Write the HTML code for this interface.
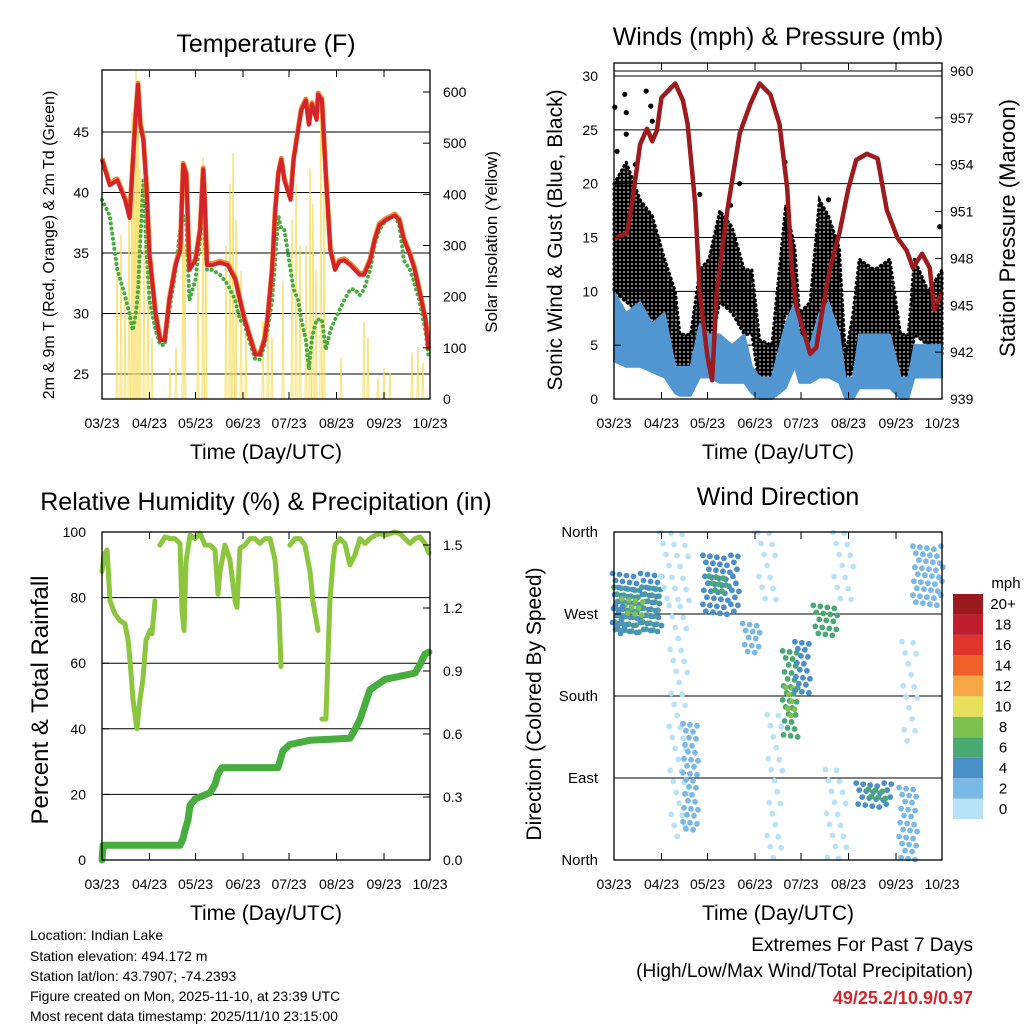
<!DOCTYPE html>
<html><head><meta charset="utf-8"><style>
html,body{margin:0;padding:0;background:#fff;}
svg{display:block;font-family:"Liberation Sans",sans-serif;}
</style></head><body>
<svg id="c" width="1024" height="1024" viewBox="0 0 1024 1024" xmlns="http://www.w3.org/2000/svg">
<defs>
<pattern id="dots" width="4" height="4" patternUnits="userSpaceOnUse"><circle cx="2" cy="2" r="2.2" fill="#000"/></pattern>
</defs>
<text x="266" y="52" font-size="25" text-anchor="middle">Temperature (F)</text>
<text x="778" y="45" font-size="25" text-anchor="middle">Winds (mph) &amp; Pressure (mb)</text>
<text x="266" y="510" font-size="25" text-anchor="middle">Relative Humidity (%) &amp; Precipitation (in)</text>
<text x="778" y="505" font-size="25" text-anchor="middle">Wind Direction</text>
<text x="266" y="459" font-size="21" text-anchor="middle">Time (Day/UTC)</text>
<text x="778" y="459" font-size="21" text-anchor="middle">Time (Day/UTC)</text>
<text x="266" y="920" font-size="21" text-anchor="middle">Time (Day/UTC)</text>
<text x="778" y="920" font-size="21" text-anchor="middle">Time (Day/UTC)</text>
<text transform="translate(54,245) rotate(-90)" font-size="16" text-anchor="middle">2m &amp; 9m T (Red, Orange) &amp; 2m Td (Green)</text>
<text transform="translate(497,242) rotate(-90)" font-size="17" text-anchor="middle">Solar Insolation (Yellow)</text>
<text transform="translate(562,240) rotate(-90)" font-size="21" text-anchor="middle">Sonic Wind &amp; Gust (Blue, Black)</text>
<text transform="translate(1015,228) rotate(-90)" font-size="22" text-anchor="middle">Station Pressure (Maroon)</text>
<text transform="translate(48,700) rotate(-90)" font-size="24" text-anchor="middle">Percent &amp; Total Rainfall</text>
<text transform="translate(541,704) rotate(-90)" font-size="21" text-anchor="middle">Direction (Colored By Speed)</text>
<g font-size="14">
<text x="30" y="940">Location: Indian Lake</text>
<text x="30" y="961">Station elevation: 494.172 m</text>
<text x="30" y="981">Station lat/lon: 43.7907; -74.2393</text>
<text x="30" y="1001">Figure created on Mon, 2025-11-10, at 23:39 UTC</text>
<text x="30" y="1021">Most recent data timestamp: 2025/11/10 23:15:00</text>
</g>
<g font-size="19" text-anchor="end">
<text x="973" y="951">Extremes For Past 7 Days</text>
<text x="973" y="977">(High/Low/Max Wind/Total Precipitation)</text>
<text x="973" y="1004" font-weight="bold" font-size="18" fill="#d0282e">49/25.2/10.9/0.97</text>
</g>
<g id="layer"></g>
</svg>
<script>
// ---------- DATA ----------
const monthLabels=["03/23","04/23","05/23","06/23","07/23","08/23","09/23","10/23"];
const monthDays=[0,31,61,92,122,153,184,214];
// Temperature panel
const tDays=[0,5,10,15,18,20,22,23.5,25,27,29,31,35,38,41,44,48,51,53,55,57,61,64,66,67,68.5,72,77,82,87,90,93,97,100,103,106,108,111,113,115,117,119,123,125,128,130,133,135,137,140,141,143.5,146,149,152,155,158,162,165,168,171,175,178,181,185,188,191,194,197,201,204,207,211,213];
const tempRed=[42.7,40.6,41.0,39.4,37.9,42.3,46.4,48.9,45.6,44.3,40.6,34.8,29.9,27.8,27.8,31.1,34.0,35.2,42.3,41.5,33.6,34.4,36.9,41.9,39.4,34.0,34.0,34.2,34.0,32.8,31.1,29.5,27.8,26.6,26.6,27.8,29.5,33.6,38.5,41.5,42.7,41.0,39.4,42.7,45.2,46.8,47.6,45.6,47.3,46.0,48.1,47.6,41.5,35.2,33.6,34.3,34.4,34.0,33.6,33.2,33.2,34.4,36.1,37.3,37.7,37.9,38.1,37.7,36.1,34.8,33.6,31.9,29.5,27.0];
const dewGreen=[39.4,38.1,33.6,31.5,29.9,28.6,29.9,31.9,36.0,41.0,35.2,31.1,28.6,27.4,27.4,30.3,33.6,36.9,38.1,37.3,31.1,32.8,36.1,41.0,36.0,33.6,33.6,33.2,32.4,31.1,29.5,29.1,27.4,26.2,26.2,27.4,28.6,31.1,34.4,38.1,37.0,36.9,33.6,32.0,31.1,29.5,27.8,25.4,28.0,29.5,29.5,29.5,27.0,28.6,29.5,30.3,31.1,32.0,32.0,31.5,32.0,33.6,35.7,36.9,37.7,37.9,38.1,37.3,34.4,33.6,32.4,31.1,28.6,26.5];
const solarDays=[9.8,12.4,15,17.6,19.6,20.9,22.2,23.5,24.8,27.4,30,32.6,44.4,48.3,52.8,54.1,62.6,65.9,67.8,80.9,83.5,85.5,87.4,90.7,93.9,105,108.3,110.9,118.1,124,126.6,129.2,133.1,135.7,137.6,139.6,142.8,144.8,155.9,170.9,173.5,180,184,187.9,202.2,206.1,209.4];
const solarPeaks=[250,320,200,380,560,470,640,620,450,300,260,120,60,100,460,300,250,470,380,300,420,480,350,250,150,150,200,120,230,350,420,300,300,450,380,250,570,400,80,150,120,40,60,50,90,100,70];
const tempTicks=[25,30,35,40,45];
const solarTicks=[0,100,200,300,400,500,600];
// Wind panel
const pDays=[0,8.5,12,17,21.5,25,28,31,40,45,48,53,56,61,64,67,74,82,89,95,102,108,113,116,119,123,128,132,136,141,147,153,158,165,172,178,185,191,195,201,206,209,214];
const pressure=[949.3,949.6,951.7,955.3,956.3,955.5,956.2,958.3,959.2,958.1,956.6,951.5,945.8,941.7,940.2,945.8,951.1,956.0,957.9,959.2,958.5,956.6,952.5,947.4,944.9,943.6,941.9,942.3,944.7,947.4,949.6,952.5,954.3,954.7,954.4,951.1,949.3,948.5,947.4,948.3,947.4,944.7,945.8];
const gDays=[0,8,17,25,33,40,43,50,56,62,69,77,85,90,95,103,112,118,121,128,134,140,147,151,156,160,170,180,187,192,196,205,214];
const gustHigh=[20,22,18.5,17,13,10,6,6,12,13,17.5,16,12,12,5.5,5,18,14,8,9,18.5,17,14,4,8,13,12,13,6,6,13,10,12];
const gustLow=[10,9,8,7,6,2,1,0.5,3.5,4,9,8,6,6,1,0.5,8,7,3,3,8,8,5,0.5,3,6,6,6,1,1,6,5,4];
const windHigh=[10,8,9,7,8,3,3,3,7,6,6,5,6,3,2,2,7,9,6,5,8,9,6,2,2,6,6,6,2,2,5,5,5];
const windLow=[3.5,3,3,2.5,2,0.5,0.3,0.3,2,2,1.5,1.5,1.5,0.5,0,0,1,3,1.5,1.5,2,2,1.5,0,0,1,1,1,0,0,2,2,2];
const gustOutDays=[0.5,7,8,21,24,25,8,2,14,56,76,82,111.5,140,212.5];
const gustOutVals=[27.1,28.3,26.6,28.6,27.2,25.8,24.6,23,21.8,19,18,20,22,18.5,16];
const windTicks=[0,5,10,15,20,25,30];
const presTicks=[939,942,945,948,951,954,957,960];
// RH panel
const rhDays=[0,1.3,3.3,5.2,8.5,11.7,15,17,18.3,20.2,22.8,24.8,26.7,28.7,31.3,32.6,34.6,36,37.8,41.1,44.4,47.6,50.9,52.2,53.5,54.8,57.4,60.7,63.9,67.2,70.5,73.7,75.7,77,80.2,83.5,86.8,88.1,90,93.3,96.5,99.8,103,106.3,109.6,112.9,115.5,116.8,120,122.6,125.9,129.2,132.4,135.7,137.6,140.9,142,143.5,146.1,148.7,150.7,152,155.3,158.5,161.8,165,168.3,171.6,174.8,178.1,181.3,184.6,187.9,191.1,194.4,197.7,200.9,204.2,207.4,210.7,213.3];
const rhVals=[88,93,94.5,79,75,73,72,67,61,49,40,49,55,67,70,69,79,null,96,98.5,98,98,96.5,76,70,91,99,98,99.7,96,96,94.5,81,88,96,91.5,79,77,95,96,98,98,96.5,98,98,91.5,76,59,null,96,98,98,96,88,79,70,null,43,43,79,91,96,98,96.5,90,93,98,96.5,98,99,99.5,99,99.5,100,99.5,98,96.5,98,98.5,96.5,93.6];
const prDays=[0,0.7,50.9,52.8,54.1,56.1,57.4,60.7,63.9,70.5,73.7,75.7,78.3,114.8,118.1,122.6,135.7,161.8,165,168.3,171.6,174.8,184.6,204.2,207.4,210.7,213.3];
const precip=[0,0.07,0.07,0.10,0.14,0.19,0.26,0.29,0.30,0.32,0.36,0.41,0.44,0.44,0.52,0.55,0.57,0.58,0.62,0.67,0.74,0.81,0.86,0.89,0.93,0.98,0.99];
const rhTicks=[0,20,40,60,80,100];
const prTicks=[0,0.3,0.6,0.9,1.2,1.5];
// Wind direction clusters
const clDays=[15,15,12,4,40,42,50,70,68,90,100,105,115,115,123,138,150,145,170,172,192,205,193];
const clDirs=[275,280,275,260,320,150,90,300,300,240,320,80,180,170,210,260,320,50,70,70,40,310,180];
const clSpreadDays=[15,16,7,3,10,6,5,12,6,6,6,5,5,3,5,8,7,7,12,6,6,10,5];
const clSpreadDirs=[25,35,12,20,45,130,60,35,12,20,40,80,50,20,30,20,40,50,15,8,40,35,60];
const clSpeeds=[6,4,9,4,1,0,3,4,6,3,1,1,6,9,4,7,1,1,4,6,2,3,1];
const dirLabels=["North","East","South","West","North"];
const dirTicks=[0,90,180,270,360];
const speedLabels=["0","2","4","6","8","10","12","14","16","18","20+"];
const speedColors=["#b8e2f7","#7ab9e5","#4a8fc6","#4aa873","#7dc24e","#e6e05a","#f7a745","#f0612a","#de3429","#bf1e2e","#9a1a1e"];

// ---------- DRAW ----------
const NS="http://www.w3.org/2000/svg";
const layer=document.getElementById('layer');
function mk(tag,attrs,parent){const e=document.createElementNS(NS,tag);for(const k in attrs)e.setAttribute(k,attrs[k]);(parent||layer).appendChild(e);return e;}
const W=328, SPAN=214;
function xs(x0){return d=>x0+d*W/SPAN;}
function lin(v0,p0,v1,p1){return v=>p0+(v-v0)*(p1-p0)/(v1-v0);}
function pathFrom(days,vals,fx,fy){let d='',pen=false;for(let i=0;i<days.length;i++){if(vals[i]===null){pen=false;continue;}d+=(pen?'L':'M')+fx(days[i]).toFixed(1)+','+fy(vals[i]).toFixed(1);pen=true;}return d;}

function frame(x0,y0,x1,y1,name){
  const r=mk('rect',{x:x0,y:y0,width:x1-x0,height:y1-y0,fill:'none',stroke:'#000','stroke-width':1.3});
  
  
}
function xAxis(x0,y0,y1,labelY,name){
  const fx=xs(x0);
  const g=mk('g',{});
  
  
  monthDays.forEach((d,i)=>{
    const x=fx(d);
    mk('line',{x1:x,x2:x,y1:y1,y2:y1-7,stroke:'#000','stroke-width':1},g);
    mk('line',{x1:x,x2:x,y1:y0,y2:y0+7,stroke:'#000','stroke-width':1},g);
    const t=mk('text',{x:x,y:labelY,'font-size':14,'text-anchor':'middle'},g);
    t.textContent=monthLabels[i];
  });
}
function yTicks(ticks,labels,fy,xEdge,dir,labelX,anchor,name,fs){
  const g=mk('g',{});
  
  
  ticks.forEach((v,i)=>{
    const y=fy(v);
    mk('line',{x1:xEdge,x2:xEdge+dir*7,y1:y,y2:y,stroke:'#000','stroke-width':1},g);
    const t=mk('text',{x:labelX,y:y+5,'font-size':fs||14,'text-anchor':anchor},g);
    t.textContent=labels[i];
  });
}
function grid(vals,fy,x0,x1,name){
  const g=mk('g',{});
  
  
  vals.forEach(v=>mk('line',{x1:x0,x2:x1,y1:fy(v),y2:fy(v),stroke:'#000','stroke-width':1},g));
}

// Panel 1: temperature
(function(){
  const fx=xs(102), fy=lin(25,374,45,132), fs=lin(0,399,600,92);
  grid(tempTicks,fy,102,430,'temp-gridlines');
  const sg=mk('g',{});
  
  
  solarDays.forEach((d,i)=>{
    const p=mk('polygon',{points:`${fx(d-0.7)},${fs(0)} ${fx(d-0.15)},${fs(solarPeaks[i])} ${fx(d+0.15)},${fs(solarPeaks[i])} ${fx(d+0.7)},${fs(0)}`,fill:'#fbe88a','fill-opacity':0.45,stroke:'#f7dc55','stroke-width':0.7},sg);
    
    
  });
  const g=mk('path',{d:pathFrom(tDays,dewGreen,fx,fy),fill:'none',stroke:'#47ad3f','stroke-width':4,'stroke-dasharray':'0.1 5','stroke-linecap':'round'});
  
  
  const o=mk('path',{d:pathFrom(tDays,tempRed,fx,v=>fy(v)-1.5),fill:'none',stroke:'#f08a2c','stroke-width':5,'stroke-linejoin':'round'});
  
  
  const r=mk('path',{d:pathFrom(tDays,tempRed,fx,fy),fill:'none',stroke:'#d4232a','stroke-width':4,'stroke-linejoin':'round'});
  
  
  frame(102,70,430,399,'temp-plot-frame');
  xAxis(102,70,399,428,'temp-x-axis');
  yTicks(tempTicks,tempTicks.map(String),fy,102,1,89,'end','temp-left-axis');
  yTicks(solarTicks,solarTicks.map(String),fs,430,-1,443,'start','solar-right-axis');
})();

// Panel 2: winds
(function(){
  const fx=xs(614), fy=lin(0,399,30,76), fp=lin(939,399,960,71);
  grid(windTicks,fy,614,942,'wind-gridlines');
  mk('line',{x1:614,x2:942,y1:fp(960),y2:fp(960),stroke:'#000','stroke-width':1});
  let top=gDays.map((d,i)=>fx(d)+','+fy(gustHigh[i])).join(' ');
  let bot=gDays.slice().reverse().map((d,k)=>{const i=gDays.length-1-k;return fx(d)+','+fy(gustLow[i]);}).join(' ');
  const ga=mk('polygon',{points:top+' '+bot,fill:'url(#dots)',stroke:'#000','stroke-width':3,'stroke-dasharray':'1 4','stroke-linecap':'round'});
  
  
  gustOutDays.forEach((d,i)=>{
    const c=mk('circle',{cx:fx(d),cy:fy(gustOutVals[i]),r:2.6,fill:'#000'});
    
    
  });
  top=gDays.map((d,i)=>fx(d)+','+fy(windHigh[i])).join(' ');
  bot=gDays.slice().reverse().map((d,k)=>{const i=gDays.length-1-k;return fx(d)+','+fy(windLow[i]);}).join(' ');
  const wa=mk('polygon',{points:top+' '+bot,fill:'#5196d0',stroke:'#5196d0','stroke-width':2,'stroke-linejoin':'round'});
  
  
  const pl=mk('path',{d:pathFrom(pDays,pressure,fx,fp),fill:'none',stroke:'#9b1b1f','stroke-width':4.5,'stroke-linejoin':'round'});
  
  
  frame(614,63,942,399,'wind-plot-frame');
  xAxis(614,63,399,428,'wind-x-axis');
  yTicks(windTicks,windTicks.map(String),fy,614,1,598,'end','wind-left-axis');
  yTicks(presTicks,presTicks.map(String),fp,942,-1,950,'start','pressure-right-axis');
})();

// Panel 3: RH & precip
(function(){
  const fx=xs(102), fy=lin(0,860,100,532), fp=lin(0,860,1.5,545);
  grid(rhTicks,fy,102,430,'rh-gridlines');
  const pr=mk('path',{d:pathFrom(prDays,precip,fx,fp),fill:'none',stroke:'#47ad3f','stroke-width':7,'stroke-linejoin':'round','stroke-linecap':'round'});
  
  
  const rh=mk('path',{d:pathFrom(rhDays,rhVals,fx,fy),fill:'none',stroke:'#8cc63e','stroke-width':5,'stroke-linejoin':'round','stroke-linecap':'round'});
  
  
  frame(102,532,430,860,'rh-plot-frame');
  xAxis(102,532,860,889,'rh-x-axis');
  yTicks(rhTicks,rhTicks.map(String),fy,102,1,86,'end','rh-left-axis');
  yTicks(prTicks,prTicks.map(v=>v.toFixed(1)),fp,430,-1,443,'start','precip-right-axis');
})();

// Panel 4: wind direction
(function(){
  const fx=xs(614), fy=lin(0,860,360,532);
  grid([90,180,270],fy,614,942,'dir-gridlines');
  const g=mk('g',{});
  
  
  clDays.forEach((d,i)=>{
    const xa=fx(d-clSpreadDays[i]), xb=fx(d+clSpreadDays[i]);
    const ya=fy(Math.min(360,clDirs[i]+clSpreadDirs[i])), yb=fy(Math.max(0,clDirs[i]-clSpreadDirs[i]));
    const col=speedColors[Math.min(10,Math.floor(clSpeeds[i]/2))];
    const step=clSpeeds[i]<=1?11:7;
    let row=0;
    for(let y=ya+2;y<=yb;y+=step,row++){
      let col2=0;
      for(let x=xa+((row*3)%step);x<=xb;x+=step,col2++){
        const c=mk('circle',{cx:x.toFixed(1),cy:(y+((col2*5)%4)-1.5).toFixed(1),r:2.9,fill:col},g);
        
        
      }
    }
  });
  frame(614,532,942,860,'dir-plot-frame');
  xAxis(614,532,860,889,'dir-x-axis');
  yTicks(dirTicks,dirLabels,fy,614,1,598,'end','dir-left-axis',15);
  // colorbar
  const cb=mk('g',{});
  
  
  const h=225/speedColors.length;
  speedColors.forEach((c,i)=>{
    const y=819-(i+1)*h;
    const r=mk('rect',{x:953,y:y,width:30,height:h,fill:c},cb);
    
    
    const t=mk('text',{x:1003,y:y+h/2+5,'font-size':15,'text-anchor':'middle'},cb);
    t.textContent=speedLabels[i];
  });
  const m=mk('text',{x:1006,y:588,'font-size':15,'text-anchor':'middle'},cb);
  m.textContent='mph';
})();
</script>
</body></html>
